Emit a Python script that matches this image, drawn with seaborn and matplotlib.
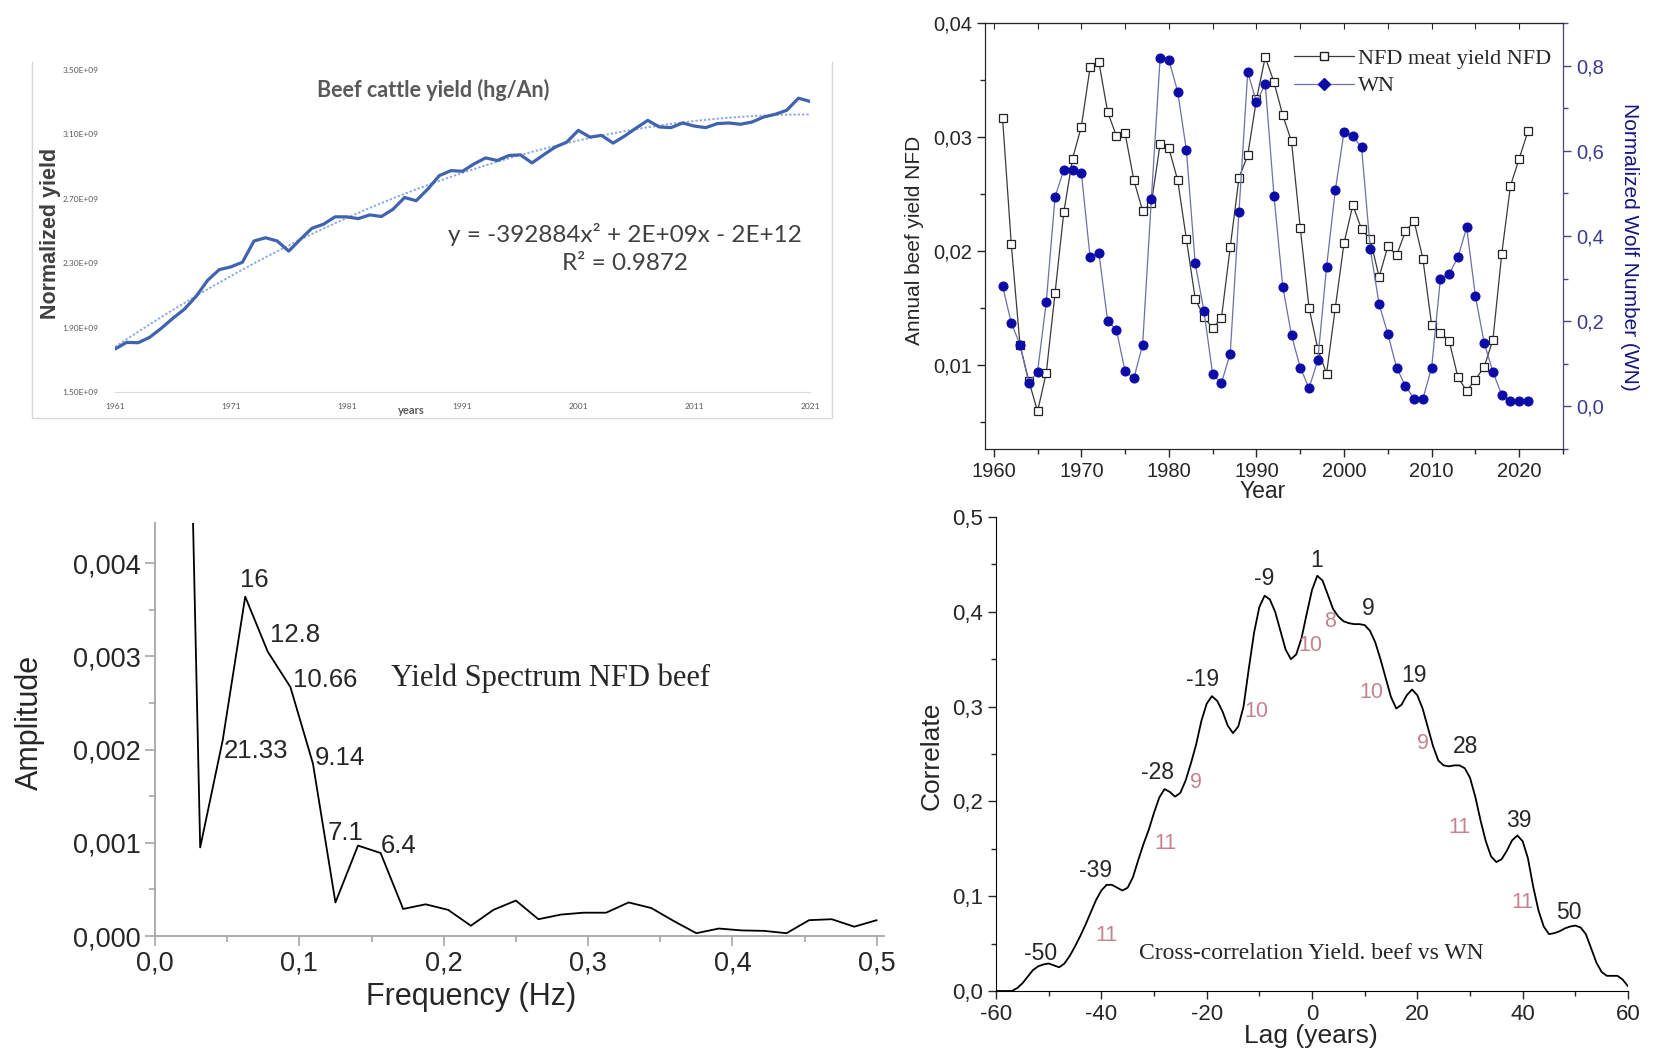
import numpy as np
import pandas as pd
import seaborn as sns
import matplotlib.pyplot as plt
from matplotlib.ticker import MultipleLocator, FuncFormatter
from matplotlib.lines import Line2D

W, H = 1654, 1055

# ---- top left: beef cattle yield (hg/An), 1961-2021
tl_years = list(range(1961, 2022))
beef_yield = [1.767, 1.808, 1.806, 1.840, 1.896, 1.958, 2.015, 2.094, 2.194, 2.260,
              2.277, 2.306, 2.438, 2.458, 2.438, 2.375, 2.448, 2.517, 2.542, 2.588,
              2.588, 2.577, 2.600, 2.590, 2.635, 2.708, 2.688, 2.760, 2.844, 2.875,
              2.871, 2.917, 2.954, 2.938, 2.969, 2.973, 2.923, 2.973, 3.021, 3.052,
              3.125, 3.083, 3.094, 3.046, 3.090, 3.140, 3.187, 3.146, 3.142, 3.171,
              3.152, 3.142, 3.167, 3.171, 3.163, 3.177, 3.208, 3.225, 3.250, 3.325,
              3.305]
beef_yield = [v * 1e9 for v in beef_yield]

# ---- top right: NFD yield and normalized wolf number
tr_years = list(range(1961, 2022))
nfd_yield = [0.0317, 0.0206, 0.0117, 0.0086, 0.0059, 0.0093, 0.0163, 0.0234, 0.0281, 0.0309,
             0.0361, 0.0366, 0.0322, 0.0301, 0.0303, 0.0262, 0.0235, 0.0242, 0.0294, 0.0290,
             0.0262, 0.0210, 0.0158, 0.0142, 0.0132, 0.0141, 0.0203, 0.0264, 0.0284, 0.0333,
             0.0370, 0.0348, 0.0319, 0.0296, 0.0220, 0.0150, 0.0114, 0.0092, 0.0150, 0.0207,
             0.0240, 0.0219, 0.0210, 0.0177, 0.0204, 0.0196, 0.0217, 0.0226, 0.0193, 0.0135,
             0.0128, 0.0121, 0.0089, 0.0077, 0.0087, 0.0098, 0.0122, 0.0197, 0.0257, 0.0281,
             0.0305]
wolf_number = [0.283, 0.196, 0.145, 0.055, 0.081, 0.246, 0.492, 0.555, 0.555, 0.549,
               0.350, 0.361, 0.201, 0.180, 0.082, 0.066, 0.145, 0.488, 0.818, 0.813,
               0.739, 0.601, 0.336, 0.224, 0.075, 0.055, 0.124, 0.457, 0.785, 0.714,
               0.757, 0.494, 0.281, 0.167, 0.091, 0.043, 0.108, 0.327, 0.507, 0.645,
               0.634, 0.608, 0.369, 0.240, 0.170, 0.091, 0.048, 0.018, 0.018, 0.091,
               0.299, 0.311, 0.350, 0.420, 0.259, 0.149, 0.081, 0.027, 0.012, 0.012,
               0.012]

# ---- bottom left: spectrum
freq = [0.0156, 0.0313, 0.0469, 0.0625, 0.0781, 0.0938, 0.1094, 0.1250,
        0.1406, 0.1563, 0.1719, 0.1875, 0.2031, 0.2188, 0.2344, 0.2500,
        0.2656, 0.2813, 0.2969, 0.3125, 0.3281, 0.3438, 0.3594, 0.3750,
        0.3906, 0.4063, 0.4219, 0.4375, 0.4531, 0.4688, 0.4844, 0.5000]
amplitude = [0.01200, 0.00095, 0.00210, 0.00364, 0.00305, 0.00267, 0.00185, 0.00036,
             0.00097, 0.00089, 0.00029, 0.00034, 0.00028, 0.00011, 0.00028, 0.00038,
             0.00018, 0.00023, 0.00025, 0.00025, 0.00036, 0.00030, 0.00016, 0.00003,
             0.00008, 0.00006, 0.000055, 0.00003, 0.00017, 0.00018, 0.00010, 0.00017]
period_labels = ["16", "12.8", "10.66", "21.33", "9.14", "7.1", "6.4"]
period_x = [0.0688, 0.0967, 0.118, 0.0699, 0.128, 0.132, 0.169]
period_y = [0.00382, 0.00323, 0.00275, 0.00198, 0.00191, 0.00111, 0.00097]

# ---- bottom right: cross-correlation, lag -60..60
lags = list(range(-60, 61))
correlation = [0.0, 0.0, 0.0, 0.0, 0.003, 0.008, 0.015, 0.022, 0.026, 0.028,
               0.029, 0.027, 0.025, 0.029, 0.037, 0.047, 0.058, 0.070, 0.083, 0.096,
               0.106, 0.112, 0.112, 0.109, 0.106, 0.109, 0.120, 0.138, 0.155, 0.170,
               0.188, 0.204, 0.213, 0.210, 0.205, 0.209, 0.222, 0.240, 0.260, 0.285,
               0.303, 0.311, 0.306, 0.295, 0.280, 0.272, 0.279, 0.300, 0.340, 0.378,
               0.405, 0.417, 0.413, 0.400, 0.380, 0.360, 0.350, 0.355, 0.372, 0.398,
               0.423, 0.438, 0.433, 0.418, 0.403, 0.395, 0.390, 0.388, 0.387, 0.387,
               0.386, 0.380, 0.368, 0.350, 0.330, 0.310, 0.298, 0.302, 0.312, 0.318,
               0.312, 0.298, 0.278, 0.258, 0.243, 0.238, 0.237, 0.238, 0.238, 0.235,
               0.225, 0.205, 0.180, 0.158, 0.142, 0.136, 0.139, 0.148, 0.159, 0.164,
               0.158, 0.140, 0.110, 0.085, 0.068, 0.060, 0.061, 0.063, 0.066, 0.068,
               0.069, 0.067, 0.060, 0.045, 0.030, 0.020, 0.016, 0.016, 0.016, 0.012,
               0.005]
peak_labels = ["-50", "-39", "-28", "-19", "-9", "1", "9", "19", "28", "39", "50"]
peak_x = [-51.5, -41.1, -29.4, -20.8, -9.1, 0.9, 10.6, 19.4, 29.2, 39.2, 48.7]
peak_y = [0.040, 0.127, 0.230, 0.329, 0.435, 0.454, 0.404, 0.333, 0.258, 0.180, 0.083]
gap_labels = ["11", "11", "9", "10", "10", "8", "10", "9", "11", "11"]
gap_x = [-39.1, -27.9, -22.0, -10.5, -0.3, 3.4, 11.2, 21.0, 28.0, 39.9]
gap_y = [0.059, 0.156, 0.220, 0.295, 0.364, 0.390, 0.315, 0.261, 0.172, 0.093]

sns.set_style("ticks")
plt.rcParams['font.family'] = ['Liberation Sans', 'DejaVu Sans']

fig = plt.figure(figsize=(W / 100, H / 100), dpi=100)


def rect(x0, y0, x1, y1):
    return [x0 / W, 1 - y1 / H, (x1 - x0) / W, (y1 - y0) / H]


def ftext(x, y, s, **kw):
    ha = kw.pop('ha', 'center')
    va = kw.pop('va', 'center')
    fig.text(x / W, 1 - y / H, s, ha=ha, va=va, **kw)


def comma(fmt):
    return FuncFormatter(lambda v, p: (fmt % v).replace('.', ','))


# ================= top left (excel style)
ax1 = fig.add_axes(rect(115, 70, 810, 392))
df_tl = pd.DataFrame({'year': tl_years, 'yield': beef_yield})
coef = np.polyfit(df_tl['year'], df_tl['yield'], 2)
df_tl['trend'] = np.polyval(coef, df_tl['year'])
sns.lineplot(data=df_tl, x='year', y='trend', ax=ax1, color='#8faadc', lw=1.4,
             linestyle=(0, (1.2, 1.0)))
sns.lineplot(data=df_tl, x='year', y='yield', ax=ax1, color='#3f63ae', lw=2.3)
ax1.set_xlim(1961, 2021)
ax1.set_ylim(1.5e9, 3.5e9)
ax1.set_xticks(range(1961, 2022, 10))
ax1.set_yticks(np.arange(1.5e9, 3.51e9, 0.4e9))
ax1.yaxis.set_major_formatter(FuncFormatter(lambda v, p: f"{v:.2E}"))
for s in ['top', 'right', 'left']:
    ax1.spines[s].set_visible(False)
ax1.spines['bottom'].set_color('#d9d9d9')
ax1.tick_params(length=0, labelsize=6, labelcolor='#595959')
ax1.tick_params(axis='y', pad=12)
ax1.tick_params(axis='x', pad=8)
for lab in ax1.get_xticklabels() + ax1.get_yticklabels():
    lab.set_family('Lato')
ax1.set_xlabel('')
ax1.set_ylabel('')
ftext(433, 90, 'Beef cattle yield (hg/An)', family='Lato', fontsize=15.5,
      fontweight='bold', color='#595959')
ftext(51, 233, 'Normalized yield', fontsize=15.5, fontweight='bold',
      color='#404040', rotation=90)
ftext(411, 410, 'years', family='Lato', fontsize=8, fontweight='bold', color='#595959')
ftext(625, 234, 'y = -392884x² + 2E+09x - 2E+12', family='Lato', fontsize=17.5,
      color='#404040')
ftext(625, 263, 'R² = 0.9872', family='Lato', fontsize=17.5, color='#404040')
for xs, ys in [([32, 32], [62, 418]), ([832, 832], [62, 418]), ([32, 832], [418, 418])]:
    fig.add_artist(Line2D([x / W for x in xs], [1 - y / H for y in ys],
                          color='#d9d9d9', lw=1))

# ================= top right
ax2 = fig.add_axes(rect(985, 23, 1563, 449))
ax2r = ax2.twinx()
sns.lineplot(x=tr_years, y=nfd_yield, ax=ax2, color='#3a3a3a', lw=0.9, marker='s',
             markersize=5.5, markerfacecolor='white', markeredgecolor='#222222',
             markeredgewidth=0.9)
sns.lineplot(x=tr_years, y=wolf_number, ax=ax2r, color='#6d70a6', lw=0.9, marker='o',
             markersize=6.5, markerfacecolor='#0b0ba8', markeredgecolor='#0b0ba8')
ax2.set_xlim(1959, 2025)
ax2.set_ylim(0.0026, 0.04)
ax2r.set_ylim(-0.1, 0.9)
ax2.xaxis.set_major_locator(MultipleLocator(10))
ax2.xaxis.set_minor_locator(MultipleLocator(5))
ax2.yaxis.set_major_locator(MultipleLocator(0.01))
ax2.yaxis.set_minor_locator(MultipleLocator(0.005))
ax2r.yaxis.set_major_locator(MultipleLocator(0.2))
ax2r.yaxis.set_minor_locator(MultipleLocator(0.1))
ax2.yaxis.set_major_formatter(comma('%.2f'))
ax2r.yaxis.set_major_formatter(comma('%.1f'))
ax2.tick_params(which='major', length=6, width=1, labelsize=14.5, direction='out')
ax2.tick_params(which='minor', length=3.5, width=1, direction='out')
ax2r.tick_params(which='major', length=6, width=1, labelsize=14.5, colors='#4a4a7a',
                 labelcolor='#3b3b8f')
ax2r.tick_params(which='minor', length=3.5, width=1, colors='#4a4a7a')
for s in ax2.spines.values():
    s.set_color('#333333')
ax2r.spines['right'].set_color('#4a4a7a')
secx = ax2.secondary_xaxis('top')
secx.set_xticks(range(1960, 2026, 5))
secx.tick_params(direction='in', length=4, labeltop=False)
ax2.set_xlabel('')
ax2.set_ylabel('')
ax2r.set_ylabel('')
handles = [Line2D([], [], color='#3a3a3a', lw=0.9, marker='s', markersize=5.5,
                  markerfacecolor='white', markeredgecolor='#222222'),
           Line2D([], [], color='#6d70a6', lw=0.9, marker='D', markersize=6,
                  markerfacecolor='#0b0ba8', markeredgecolor='#0b0ba8')]
ax2r.legend(handles, ['NFD meat yield NFD', 'WN'], loc='upper left',
            bbox_to_anchor=(0.535, 0.94), frameon=False, borderpad=0, borderaxespad=0,
            handlelength=2.7, handletextpad=0.15, labelspacing=0.3,
            prop={'family': 'Liberation Serif', 'size': 16})
ftext(915, 240, 'Annual beef yield NFD', fontsize=15, rotation=90)
ftext(1630, 247, 'Normalized Wolf Number (WN)', fontsize=15, rotation=-90,
      color='#161680')
ftext(1263, 492, 'Year', fontsize=16.5)

# ================= bottom left: spectrum
ax3 = fig.add_axes(rect(155, 523, 884, 936))
sns.lineplot(x=freq, y=amplitude, ax=ax3, color='black', lw=1.3)
ax3.set_xlim(0, 0.505)
ax3.set_ylim(0, 0.00443)
ax3.xaxis.set_major_locator(MultipleLocator(0.1))
ax3.xaxis.set_minor_locator(MultipleLocator(0.05))
ax3.yaxis.set_major_locator(MultipleLocator(0.001))
ax3.yaxis.set_minor_locator(MultipleLocator(0.0005))
ax3.xaxis.set_major_formatter(comma('%.1f'))
ax3.yaxis.set_major_formatter(comma('%.3f'))
for s in ['top', 'right']:
    ax3.spines[s].set_visible(False)
for s in ['left', 'bottom']:
    ax3.spines[s].set_color('#a6a6a6')
    ax3.spines[s].set_linewidth(1.3)
ax3.tick_params(which='major', length=7, width=1.2, color='#a6a6a6', labelsize=19.5)
ax3.tick_params(which='minor', length=4, width=1.2, color='#a6a6a6')
ax3.set_xlabel('')
ax3.set_ylabel('')
for lab, x, y in zip(period_labels, period_x, period_y):
    ax3.text(x, y, lab, fontsize=18.5, ha='center', va='center')
ax3.text(0.1636, 0.00277, 'Yield Spectrum NFD beef', family='Liberation Serif',
         fontsize=22, ha='left', va='center')
ftext(30, 722, 'Amplitude', fontsize=22, rotation=90)
ftext(471, 997, 'Frequency (Hz)', fontsize=22)

# ================= bottom right: cross correlation
ax4 = fig.add_axes(rect(996, 517, 1628, 991))
sns.lineplot(x=lags, y=correlation, ax=ax4, color='black', lw=1.3)
ax4.set_xlim(-60, 60)
ax4.set_ylim(0, 0.5)
ax4.xaxis.set_major_locator(MultipleLocator(20))
ax4.xaxis.set_minor_locator(MultipleLocator(10))
ax4.yaxis.set_major_locator(MultipleLocator(0.1))
ax4.yaxis.set_minor_locator(MultipleLocator(0.05))
ax4.yaxis.set_major_formatter(comma('%.1f'))
ax4.xaxis.set_major_formatter(FuncFormatter(lambda v, p: f"{v:.0f}"))
for s in ['top', 'right']:
    ax4.spines[s].set_visible(False)
for s in ['left', 'bottom']:
    ax4.spines[s].set_color('black')
ax4.tick_params(which='major', length=6, width=1, labelsize=16)
ax4.tick_params(which='minor', length=3.5, width=1)
ax4.set_xlabel('')
ax4.set_ylabel('')
for lab, x, y in zip(peak_labels, peak_x, peak_y):
    ax4.text(x, y, lab, fontsize=16.5, ha='center', va='center')
for lab, x, y in zip(gap_labels, gap_x, gap_y):
    ax4.text(x, y, lab, fontsize=15.5, ha='center', va='center', color='#c4838d')
ax4.text(-0.2, 0.040, 'Cross-correlation Yield. beef vs WN', family='Liberation Serif',
         fontsize=17, ha='center', va='center')
ftext(932, 756, 'Correlate', fontsize=19, rotation=90)
ftext(1311, 1036, 'Lag (years)', fontsize=19)

fig.savefig('out.png', dpi=100)
